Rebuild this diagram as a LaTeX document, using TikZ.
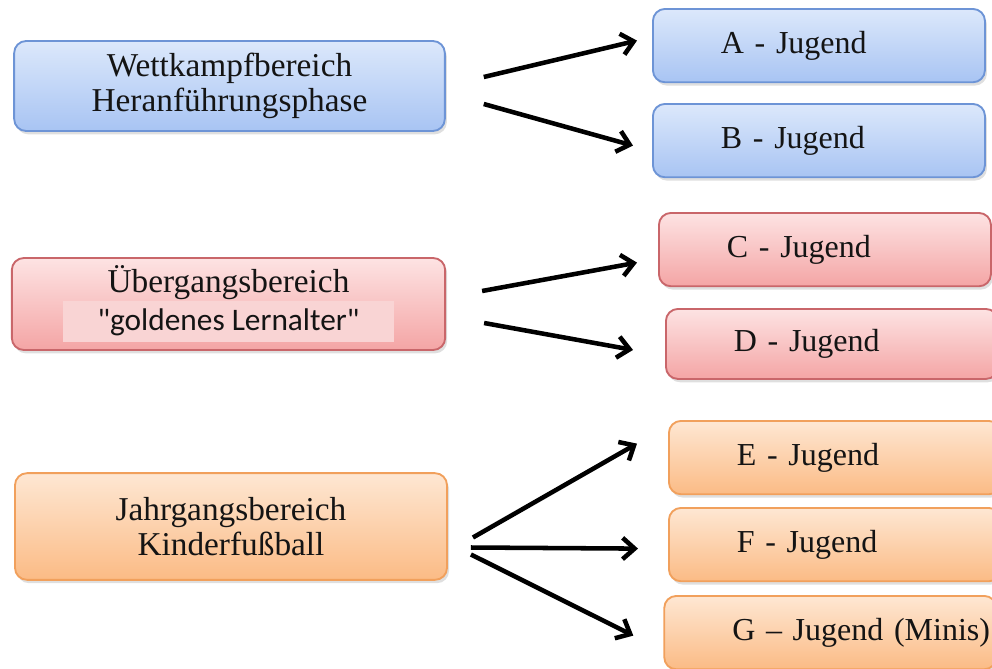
\documentclass[tikz,border=0pt]{standalone}
\usepackage{fontspec}
\usepackage{tikz}
\usepackage{xcolor}
\usetikzlibrary{arrows.meta,shadows}

\setmainfont{Liberation Serif}
\newfontfamily\lernfont{Carlito}
\newcommand\jugendschrift{\fontsize{24}{26}\selectfont\spaceskip=0.2em plus 0.1em\relax}

\definecolor{blauoben}{HTML}{DCE8FB}
\definecolor{blauunten}{HTML}{A8C4F3}
\definecolor{blaurand}{HTML}{6D94D6}
\definecolor{rotoben}{HTML}{FDE3E3}
\definecolor{rotunten}{HTML}{F4A5A5}
\definecolor{rotrand}{HTML}{C9666A}
\definecolor{orangeoben}{HTML}{FEE7D3}
\definecolor{orangeunten}{HTML}{FBBB85}
\definecolor{orangerand}{HTML}{F1A05C}
\definecolor{lernbg}{HTML}{F9D4D4}
\definecolor{schrift}{HTML}{141414}

\tikzset{
  bereich/.style={rectangle, rounded corners=9pt, line width=1.4pt, align=center,
    text=schrift, font=\fontsize{25}{26}\selectfont,
    drop shadow={shadow xshift=1.5pt, shadow yshift=-2.5pt, opacity=0.25}},
  jugend/.style={bereich, anchor=north west, align=left, text width=147pt,
    inner xsep=51pt, minimum height=55pt, font=\jugendschrift},
  blau/.style={draw=blaurand, top color=blauoben, bottom color=blauunten},
  rot/.style={draw=rotrand, top color=rotoben, bottom color=rotunten},
  orange/.style={draw=orangerand, top color=orangeoben, bottom color=orangeunten},
  arr/.style={line width=3.4pt, -{Straight Barb[length=9pt,width=16pt]}}
}

\begin{document}
\begin{tikzpicture}[x=0.75pt, y=-0.75pt]
\useasboundingbox (0,0) rectangle (992,668);
\clip (0,0) rectangle (992,668);

% linke Spalte
\node[bereich, blau, minimum width=323pt, minimum height=67.5pt] (wk) at (229.5,86)
  {Wettkampfbereich\\Heranführungsphase};
\node[bereich, rot, minimum width=325pt, minimum height=69pt] (ub) at (228.5,304)
  {Übergangsbereich\\{\setlength\fboxsep{0pt}\colorbox{lernbg}{\hspace{26pt}\rule[-9pt]{0pt}{31pt}\lernfont\fontsize{23.5}{26}\selectfont "goldenes Lernalter"\hspace{26pt}}}};
\node[bereich, orange, minimum width=324pt, minimum height=80pt] (jg) at (231,526.5)
  {Jahrgangsbereich\\Kinderfußball};

% rechte Spalte
\node[jugend, blau] (a) at (652,8) {A - Jugend};
\node[jugend, blau] (b) at (652,103) {B - Jugend};
\node[jugend, rot] (c) at (658,212) {C - Jugend};
\node[jugend, rot, minimum height=52.5pt] (d) at (665,308) {D - Jugend};
\node[jugend, orange] (e) at (668,420) {E - Jugend};
\node[jugend, orange] (f) at (668,507) {F - Jugend};
\node[jugend, orange, xshift=-3.5pt] (g) at (668,595) {\mbox{G – Jugend (Minis)}};

% Pfeile
\draw[arr] ([shift={(38,-9)}]wk.east) -- ([shift={(-15,-5)}]a.west);
\draw[arr] ([shift={(38,18)}]wk.east) -- ([shift={(-19,5)}]b.west);
\draw[arr] ([shift={(36,-13)}]ub.east) -- ([shift={(-21,13)}]c.west);
\draw[arr] ([shift={(38,19)}]ub.east) -- ([shift={(-32,6)}]d.west);
\draw[arr] ([shift={(25,11)}]jg.east) -- ([shift={(-31,-14)}]e.west);
\draw[arr] ([shift={(23,21)}]jg.east) -- ([shift={(-30,4)}]f.west);
\draw[arr] ([shift={(23,28)}]jg.east) -- ([shift={(-30,3)}]g.west);
\end{tikzpicture}
\end{document}
